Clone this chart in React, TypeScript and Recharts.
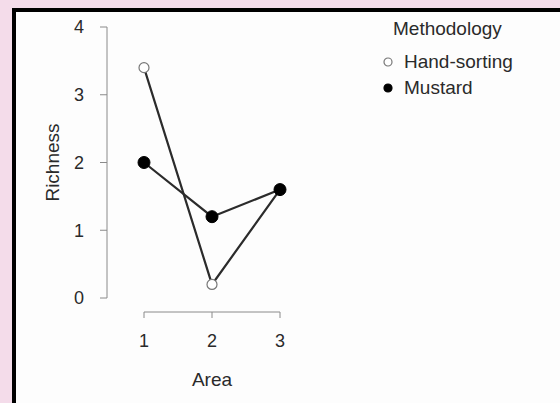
import React from 'react';
import { LineChart, Line, XAxis, YAxis, Legend } from 'recharts';

const areas = [1, 2, 3];
const handSorting = [3.4, 0.2, 1.6];
const mustard = [2.0, 1.2, 1.6];
const xTicks = [1, 2, 3];
const yTicks = [0, 1, 2, 3, 4];

const data = areas.map((a, i) => ({
  area: a,
  hand: handSorting[i],
  mustard: mustard[i],
}));

const FONT = '"Liberation Sans", Arial, Helvetica, sans-serif';

const LegendBox = (props: any) => {
  const items = props.payload || [];
  return (
    <div style={{ fontFamily: FONT, color: '#2a2a2a' }}>
      <div style={{ fontSize: 19, lineHeight: '24px', paddingLeft: 10 }}>Methodology</div>
      <div style={{ marginTop: 8 }}>
        {items.map((it: any) => (
          <div key={it.value} style={{ display: 'flex', alignItems: 'center', height: 26 }}>
            <svg width={10} height={10} style={{ marginRight: 11 }}>
              <circle
                cx={5}
                cy={5}
                r={4}
                fill={it.value === 'Hand-sorting' ? '#fff' : '#000'}
                stroke={it.value === 'Hand-sorting' ? '#777' : '#000'}
                strokeWidth={1.2}
              />
            </svg>
            <span style={{ fontSize: 19 }}>{it.value}</span>
          </div>
        ))}
      </div>
    </div>
  );
};

export default function App() {
  return (
    <div
      style={{
        position: 'fixed',
        left: 0,
        top: 0,
        width: 560,
        height: 403,
        background: '#f4dcea',
        overflow: 'hidden',
      }}
    >
      {/* axis lines sit apart from the panel, ggplot style */}
      <style>{`
        .recharts-yAxis { transform: translateX(-37px); }
        .recharts-xAxis { transform: translateY(14px); }
      `}</style>
      <div
        style={{
          position: 'absolute',
          left: 12,
          top: 8,
          width: 560,
          height: 420,
          background: '#fdfdfd',
          borderLeft: '4px solid #000',
          borderTop: '4px solid #000',
        }}
      />
      <div style={{ position: 'absolute', left: 0, top: 0 }}>
        <LineChart
          width={560}
          height={403}
          data={data}
          margin={{ top: 27, right: 280, bottom: 31, left: 36 }}
        >
          <XAxis
            dataKey="area"
            type="number"
            domain={[1, 3]}
            ticks={xTicks}
            height={74}
            stroke="#8a8a8a"
            tickSize={6}
            tickMargin={30}
            tick={{ fill: '#2a2a2a', fontSize: 18, fontFamily: FONT }}
            label={{
              value: 'Area',
              position: 'insideBottom',
              offset: -14,
              fill: '#2a2a2a',
              fontSize: 19,
              fontFamily: FONT,
            }}
          />
          <YAxis
            type="number"
            domain={[0, 4]}
            ticks={yTicks}
            width={108}
            stroke="#8a8a8a"
            tickSize={7}
            tickMargin={53}
            tick={{ fill: '#2a2a2a', fontSize: 18, fontFamily: FONT }}
            label={{
              value: 'Richness',
              angle: -90,
              position: 'insideLeft',
              offset: 16,
              fill: '#2a2a2a',
              fontSize: 19,
              fontFamily: FONT,
              style: { textAnchor: 'middle' },
            }}
          />
          <Legend
            layout="horizontal"
            verticalAlign="middle"
            align="center"
            content={<LegendBox />}
            wrapperStyle={{ top: 17, left: 383, width: 'auto' }}
          />
          <Line
            name="Hand-sorting"
            dataKey="hand"
            stroke="#2b2b2b"
            strokeWidth={2.2}
            dot={{ r: 5, fill: '#fff', stroke: '#777', strokeWidth: 1.2 }}
            isAnimationActive={false}
          />
          <Line
            name="Mustard"
            dataKey="mustard"
            stroke="#2b2b2b"
            strokeWidth={2.2}
            dot={{ r: 6, fill: '#000', stroke: '#000', strokeWidth: 1 }}
            isAnimationActive={false}
          />
        </LineChart>
      </div>
    </div>
  );
}
